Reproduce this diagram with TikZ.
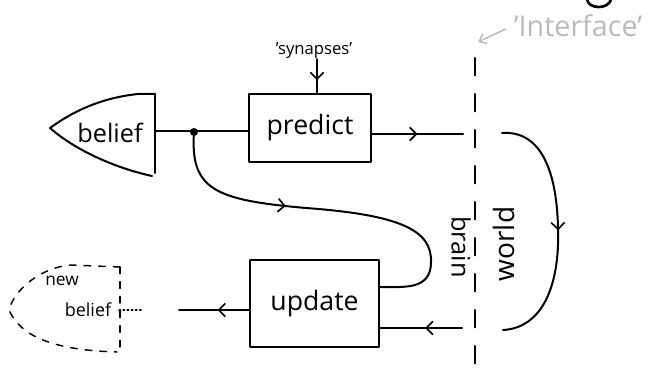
\documentclass[tikz,border=0pt]{standalone}
\usepackage{fontspec}
\setmainfont{Open Sans}
\usetikzlibrary{arrows.meta,decorations.markings,calc}
\begin{document}
\begin{tikzpicture}[x=0.75pt,y=-0.75pt,
  ink/.style={line width=1.5pt,line cap=round,line join=round},
  midarrow/.style={postaction={decorate},decoration={markings,mark=at position #1 with {\arrow[line width=1.2pt]{Straight Barb[length=5pt,width=10pt]}}}},
  boxnode/.style={draw,ink,rectangle,inner sep=0pt,font=\fontsize{20}{22}\selectfont},
  lbl/.style={inner sep=0pt},
  dashline/.style={line width=1.5pt,line cap=round,dash pattern=on 13pt off 14pt}]
\useasboundingbox (0,0) rectangle (652,373);

% nodes
\node[boxnode,minimum width=91.5pt,minimum height=51pt] (predict) at (310,128) {predict};
\node[boxnode,minimum width=96.75pt,minimum height=65.25pt] (update) at (314.5,303.5) {update};
\node[lbl,font=\fontsize{19}{22}\selectfont] (belief) at (110,133) {belief};
\node[lbl,font=\fontsize{12.5}{14}\selectfont] (syn) at (314,51) {'synapses'};
\node[lbl,font=\fontsize{13}{15}\selectfont] (new) at (62,281) {new};
\node[lbl,font=\fontsize{13.5}{15}\selectfont] (newbelief) at (88,310) {belief};
\node[lbl,font=\fontsize{19}{21}\selectfont,rotate=-90] (brain) at (461,247) {brain};
\node[lbl,font=\fontsize{21}{23}\selectfont,rotate=90] (world) at (504,244) {world};
\node[lbl,font=\fontsize{21.5}{23}\selectfont,text=black!27] (iface) at (578,26) {'Interface'};

% coordinates
\coordinate (bR) at (155,131);
\coordinate (split) at (194,132);
\coordinate (wL1) at (463,134);
\coordinate (wR1) at (502,133);
\coordinate (wR2) at (503,330);
\coordinate (wL2) at (462,328);
\coordinate (nbR) at (179,310);
\coordinate (sEnd) at (379,287);
\coordinate (dotA) at (143,310);
\coordinate (dotB) at (119,310);
\coordinate (ifTip) at (478,42);
\coordinate (ifTail) at (506,29);
\coordinate (lineTop) at (475,58);
\coordinate (lineBot) at (475,373);

% belief shape
\draw[ink] (155,94) -- (155,173);
\draw[ink] (155,94) -- (138,94) .. controls (100,98) and (72,112) .. (50,128)
  .. controls (75,150) and (115,168) .. (152,176);

% new belief dashed shape
\draw[ink,line width=1.1pt,dash pattern=on 5pt off 6pt] (120,267) -- (120,352);
\draw[ink,line width=1.1pt,dash pattern=on 5pt off 6pt] (120,267) -- (70,265)
  .. controls (40,268) and (14,290) .. (9,310)
  .. controls (20,335) and (50,350) .. (117,352);
\draw[ink,line width=1.1pt,dotted] (dotB) -- (dotA);

% connectors
\draw[ink] (bR) -- (predict.west |- bR);
\fill (split) circle (3pt);
\draw[ink,midarrow=0.62] (syn.south -| 317,0) -- (317,0 |- predict.north);
\draw[ink,midarrow=0.5] (predict.east |- wL1) -- (wL1);
\draw[ink,midarrow=0.5] (wR1) .. controls (545,130) and (557,180) .. (558,228)
  .. controls (560,290) and (540,328) .. (wR2);
\draw[ink,midarrow=0.45] (wL2) -- (update.east |- wL2);
\draw[ink,midarrow=0.45] (update.west |- nbR) -- (nbR);
\draw[ink,midarrow=0.37] (split) .. controls (190,190) and (215,200) .. (306,208)
  .. controls (400,215) and (432,230) .. (431,262)
  .. controls (431,290) and (405,287) .. (update.east |- sEnd);

% interface line
\draw[dashline] (lineTop) -- (lineBot);
\draw[line width=1.1pt,black!27,-{Straight Barb[length=5pt,width=8pt]}] (ifTail) -- (ifTip);

% partial glyph at the top edge
\draw[line width=2pt] (587,-1) .. controls (588,9) and (607,10) .. (611,0);
\end{tikzpicture}
\end{document}
